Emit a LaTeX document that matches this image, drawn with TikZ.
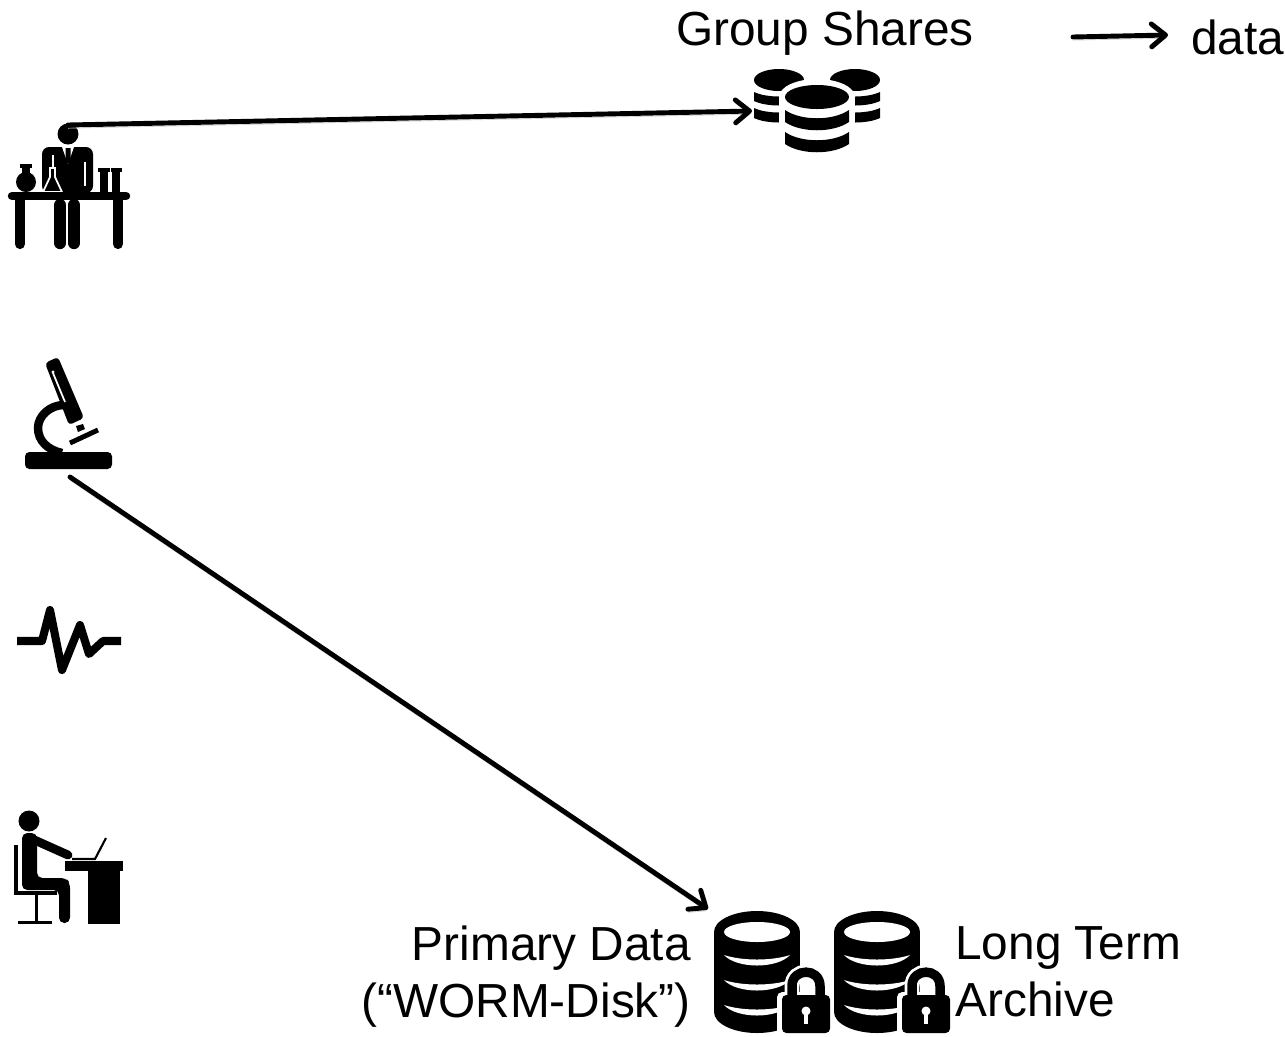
\documentclass[tikz,border=0pt]{standalone}
\usepackage{fontspec}
\setmainfont{Liberation Sans}
\usetikzlibrary{arrows.meta, positioning}

\newcommand{\dbband}[5]{% cx, rx, top, height, sag
  \fill ({#1-#2},#3) .. controls ({#1-#2/2},{#3+#5}) and ({#1+#2/2},{#3+#5}) .. ({#1+#2},#3)
    -- ({#1+#2},{#3+#4}) .. controls ({#1+#2/2},{#3+#4+#5}) and ({#1-#2/2},{#3+#4+#5}) .. ({#1-#2},{#3+#4}) -- cycle;
}

\tikzset{
  lockeddb/.pic={
    \foreach \ly in {0,27,54,80} {
      \fill (0,\ly) ellipse [x radius=43, y radius=21];
    }
    \fill (-43,0) rectangle (43,80);
    \fill[white] (0,0) ellipse [x radius=33, y radius=10];
    \foreach \ly in {0,25,50} {
      \fill[white] (-33,{\ly+23}) .. controls (-15,{\ly+29}) and (15,{\ly+29}) .. (33,{\ly+23})
        .. controls (20,{\ly+37}) and (-20,{\ly+37}) .. cycle;
    }
    \draw[white, line width=8.5pt, line cap=round] (35,65) -- (35,54) .. controls (35,35.5) and (63,35.5) .. (63,54) -- (63,65);
    \fill[white, rounded corners=3pt] (20,60) rectangle (78,106);
    \draw[line width=5.4pt] (35,66) -- (35,54) .. controls (35,35.5) and (63,35.5) .. (63,54) -- (63,66);
    \fill[rounded corners=2.5pt] (25,63) rectangle (73,101);
    \fill[white] (49,79) circle (4.5);
    \fill[white] (47,80) rectangle (51,92);
  }
}

\begin{document}
\begin{tikzpicture}[x=0.02cm, y=-0.02cm,
    flow/.style={-{Straight Barb[length=8pt, width=13pt, line width=2.8pt, round]}, line width=2.8pt, line cap=round,
      preaction={draw=black!18, transform canvas={yshift=-1.8pt}}},
    caption/.style={font=\fontsize{27.2}{32.4}\selectfont, inner sep=0pt}]

  \useasboundingbox (0,0) rectangle (1285,1036);

  % bench
  \fill (68,134) circle (10.5);
  \fill[rounded corners=4pt] (42,193) -- (42,147) -- (93,147) -- (93,193) -- cycle;
  \fill[white] (62,147) -- (74,147) -- (68,164) -- cycle;
  \fill (65.5,148) -- (70.5,148) -- (70.5,160) -- (68,164) -- (65.5,160) -- cycle;
  \draw[white, line width=0.8pt] (53,155) -- (53,168);
  \draw[white, line width=0.8pt] (85,162) -- (85,186);
  \fill[draw=white, line width=1pt] (50,168) -- (55,168) -- (55,177) -- (62,192) -- (43,192) -- (50,177) -- cycle;
  \fill (26,182) circle (10);
  \fill (22,166) rectangle (30,178);
  \fill (20,164) rectangle (32,168);
  \fill (100,172) rectangle (108,192);
  \fill (112,172) rectangle (120,192);
  \fill (98,168) rectangle (110,172);
  \fill (110.5,168) rectangle (122,172);
  \draw[line width=4.8pt, line cap=round] (12,196) -- (126,196);
  \draw[line width=5.8pt, line cap=round] (20,198) -- (20,244);
  \draw[line width=5.8pt, line cap=round] (118,198) -- (118,244);
  \draw[line width=7pt, line cap=round] (60,205) -- (60,243);
  \draw[line width=7pt, line cap=round] (74,205) -- (74,243);

  % microscope
  \fill[rounded corners=2pt] (45,363) -- (58,357) -- (84,418) -- (69,425) -- cycle;
  \draw[white, line width=1pt] (53,373) -- (65,402);
  \fill[white] (53,372) circle (1.6);
  \fill (76,426) -- (83,424) -- (85,429) -- (78,432) -- cycle;
  \draw[line width=2.8pt] (70,443) -- (98,430);
  \draw[line width=4.8pt] (64,405) .. controls (50,405) and (38,416) .. (38,428) .. controls (38,441) and (48,450) .. (62,453);
  \fill[rounded corners=2.5pt] (25,452) rectangle (112,469);

  % pulse
  \draw[line width=4.6pt, line join=round] (17,641) -- (42,641) -- (50,610) -- (62,670) -- (80,625) -- (89,654) -- (103,641) -- (121,641);

  % desk
  \fill (29,821) circle (10.5);
  \fill[rounded corners=3pt] (22,833) -- (37,833) -- (37,878) -- (66,878) -- (70,883) -- (70,923) -- (59,923) -- (59,890) -- (22,890) -- cycle;
  \draw[line width=5pt, line cap=round] (30,838) -- (68,855);
  \fill (14,845) rectangle (18,895);
  \fill (18,891) rectangle (57,895);
  \fill (35,895) rectangle (38,922);
  \fill (18,921) rectangle (52,924);
  \fill (65,861) rectangle (123,871);
  \fill (88,871) rectangle (120,924);
  \draw[line width=1.2pt] (72,859) -- (95,859) -- (106,838);

  % group shares
  \fill (779,80) ellipse [x radius=25, y radius=11];
  \fill (855,80) ellipse [x radius=25, y radius=11];
  \dbband{779}{25}{92}{9}{6}
  \dbband{779}{25}{108}{10}{6}
  \dbband{855}{25}{92}{9}{6}
  \dbband{855}{25}{108}{10}{6}
  \fill[white] (779,97) rectangle (855,160);
  \fill[white] (817,97) ellipse [x radius=38, y radius=18];
  \fill (817,97) ellipse [x radius=32, y radius=12];
  \dbband{817}{32}{110}{12}{11}
  \dbband{817}{32}{132}{12}{11}

  % locked stores
  \pic at (757,932) {lockeddb};
  \pic at (877,932) {lockeddb};

  \node[caption] (shares) at (825,33) {Group Shares};
  \node[caption, anchor=west] (data) at (1191,37) {data};
  \node[caption, anchor=north east, align=right] (primary) at (691,926) {Primary Data\\(“WORM-Disk”)};
  \node[caption, anchor=north west, align=left] (archive) at (955,926) {Long Term\\Archive};

  \coordinate (benchtop) at (68,125);
  \coordinate (sharesin) at (752,111);
  \coordinate (scopefoot) at (70,477);
  \coordinate (primaryin) at (708,909);
  \coordinate (keystart) at (1073,37);
  \coordinate (keyend) at (1168,35);

  \draw[flow] (benchtop) -- (sharesin);
  \draw[flow] (scopefoot) -- (primaryin);
  \draw[flow] (keystart) -- (keyend);

\end{tikzpicture}
\end{document}
